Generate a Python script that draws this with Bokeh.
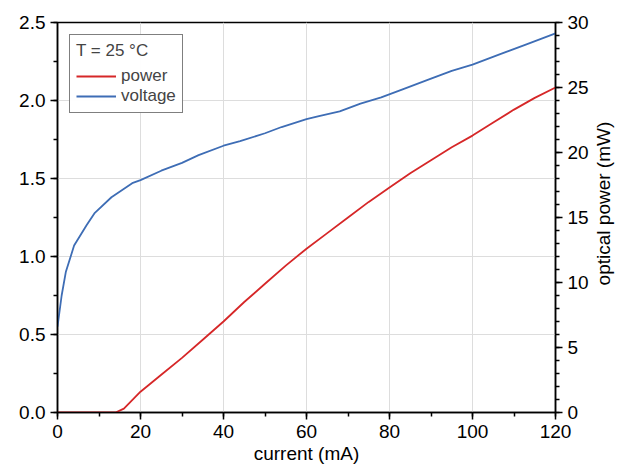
import math
from bokeh.plotting import figure
from bokeh.layouts import row
from bokeh.models import Range1d, LinearAxis, Legend, LegendItem, SingleIntervalTicker, NumeralTickFormatter
from bokeh.core.properties import value
from bokeh.embed import file_html
from bokeh.resources import INLINE

cur_v = [0, 1, 2, 4, 7, 9, 13, 18, 20, 25, 30, 34, 40, 44, 50, 54, 60, 63, 68, 73, 78, 83, 90, 95, 100, 107, 113, 120]
volt = [0.55, 0.75, 0.9, 1.07, 1.2, 1.28, 1.38, 1.47, 1.49, 1.55, 1.60, 1.65, 1.71, 1.74, 1.79, 1.83, 1.88, 1.90, 1.93, 1.98, 2.02, 2.07, 2.14, 2.19, 2.23, 2.30, 2.36, 2.43]
cur_p = [0, 14, 16, 20, 25, 30, 35, 40, 45, 50, 55, 60, 65, 70, 75, 80, 85, 90, 95, 100, 105, 110, 115, 120]
power = [0, 0, 0.3, 1.6, 2.9, 4.2, 5.6, 7.0, 8.5, 9.9, 11.3, 12.6, 13.8, 15.0, 16.2, 17.3, 18.4, 19.4, 20.4, 21.3, 22.3, 23.3, 24.2, 25.0]
right_label = "optical power (mW)"

FONT = "Liberation Sans"
p = figure(frame_width=498, frame_height=390, output_backend="svg", toolbar_location=None,
           x_range=Range1d(0, 120), y_range=Range1d(0, 2.5),
           min_border_left=57, min_border_top=22, min_border_right=34, min_border_bottom=5)
p.extra_y_ranges = {"pw": Range1d(0, 30)}
p.outline_line_color = "black"
p.outline_line_width = 1.5

def style(ax):
    ax.major_label_text_font = FONT
    ax.major_label_text_font_size = "19px"
    ax.major_label_text_color = "black"
    ax.axis_label_text_font = FONT
    ax.axis_label_text_font_size = "19px"
    ax.axis_label_text_font_style = "normal"
    ax.axis_label_text_color = "black"
    ax.axis_line_width = 1.5
    ax.major_tick_line_width = 1.5
    ax.minor_tick_line_width = 1.5
    ax.major_tick_out = 7
    ax.major_tick_in = 0
    ax.minor_tick_out = 4
    ax.minor_tick_in = 0

p.xaxis.ticker = SingleIntervalTicker(interval=20, num_minor_ticks=2)
p.yaxis.ticker = SingleIntervalTicker(interval=0.5, num_minor_ticks=2)
p.xaxis.axis_label = "current (mA)"
p.xaxis.axis_label_standoff = 2
style(p.xaxis[0]); style(p.yaxis[0])
p.yaxis.formatter = NumeralTickFormatter(format="0.0")

ra = LinearAxis(y_range_name="pw", ticker=SingleIntervalTicker(interval=5, num_minor_ticks=5))
style(ra)
p.add_layout(ra, "right")

p.xgrid.grid_line_color = "#dddddd"
p.ygrid.grid_line_color = "#dddddd"

r1 = p.line(cur_p, power, y_range_name="pw", line_color="#d62728", line_width=1.8)
r2 = p.line(cur_v, volt, line_color="#3e6db5", line_width=1.8)

leg = Legend(items=[LegendItem(label="power", renderers=[r1]), LegendItem(label="voltage", renderers=[r2])],
             location="top_left", title="T = 25 °C")
leg.title_text_font = FONT
leg.title_text_font_size = "17px"
leg.title_text_font_style = "normal"
leg.label_text_font = FONT
leg.label_text_font_size = "17px"
leg.border_line_color = "black"
leg.border_line_width = 1
leg.glyph_width = 40
leg.spacing = 0
leg.padding = 6
leg.margin = 12
leg.label_height = 18
p.add_layout(leg)

H = 459
p2 = figure(width=26, height=H, output_backend="svg", toolbar_location=None,
            x_range=Range1d(0, 26), y_range=Range1d(-(H - 217), 217),
            min_border=0, x_axis_type=None, y_axis_type=None)
p2.outline_line_color = None
p2.xgrid.visible = False
p2.ygrid.visible = False
p2.text(x=[12], y=[0], text=[right_label], angle=math.pi / 2, text_align="center",
        text_baseline="middle", text_font=value(FONT), text_font_size="19px", text_color="black")

open("out.html", "w").write(file_html(row(p, p2), INLINE))
